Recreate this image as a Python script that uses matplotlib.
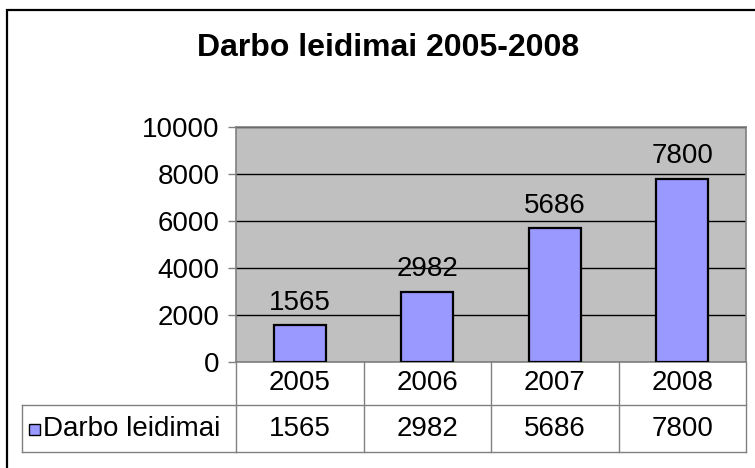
import matplotlib
matplotlib.use("Agg")
import matplotlib.pyplot as plt
from matplotlib import transforms
from matplotlib.patches import Rectangle
from matplotlib.lines import Line2D

plt.rcParams["font.family"] = ["Liberation Sans", "DejaVu Sans"]

TITLE = "Darbo leidimai 2005-2008"
SERIES_NAME = "Darbo leidimai"
YEARS = ["2005", "2006", "2007", "2008"]
PERMITS = [1565, 2982, 5686, 7800]
Y_TICKS = [0, 2000, 4000, 6000, 8000, 10000]

BAR_COLOR = "#9999FF"
PLOT_BG = "#C0C0C0"
GRID_GRAY = "#808080"

W, H = 755, 468
fig = plt.figure(figsize=(W / 100, H / 100), dpi=100)

# outer chart border (runs off the right/bottom edges like the source)
fig.patches.append(Rectangle((7 / W, -0.2), 1.2, 1.2 - 10 / H + 0.0, transform=fig.transFigure,
                             fill=False, edgecolor="black", linewidth=1.6))

fig.text(388 / W, 1 - 48 / H, TITLE, ha="center", va="center", fontsize=23, fontweight="bold")

# plot area
left, right, top, bottom = 236, 746, 127, 362
ax = fig.add_axes([left / W, 1 - bottom / H, (right - left) / W, (bottom - top) / H])
ax.set_facecolor(PLOT_BG)
x = list(range(len(YEARS)))
ax.bar(x, PERMITS, width=0.41, color=BAR_COLOR, edgecolor="black", linewidth=1.6, zorder=3)
for xi, v in zip(x, PERMITS):
    ax.annotate(str(v), (xi, v), xytext=(0, 7), textcoords="offset points",
                ha="center", va="bottom", fontsize=20, zorder=4)
ax.set_xlim(-0.5, len(YEARS) - 0.5)
ax.set_ylim(0, 10000)
ax.set_yticks(Y_TICKS)
ax.set_yticklabels([str(t) for t in Y_TICKS], fontsize=20)
ax.yaxis.grid(True, color="black", linewidth=1.0, zorder=1)
ax.set_axisbelow(True)
ax.set_xticks([])
ax.tick_params(axis="y", length=6, width=1, color=GRID_GRAY, pad=6)
for s in ax.spines.values():
    s.set_color(GRID_GRAY)
    s.set_linewidth(1.2)

# data table under the plot
trans = transforms.blended_transform_factory(ax.transData, ax.transAxes)
h_px = bottom - top
row1 = -(405 - bottom) / h_px
row2 = -(452 - bottom) / h_px
line_kw = dict(color=GRID_GRAY, linewidth=1.0, clip_on=False)
for b in [i - 0.5 for i in range(len(YEARS) + 1)]:
    ax.add_line(Line2D([b, b], [0, row2], transform=trans, **line_kw))
ax.add_line(Line2D([-0.5, len(YEARS) - 0.5], [row1, row1], transform=trans, **line_kw))
ax.add_line(Line2D([-0.5, len(YEARS) - 0.5], [row2, row2], transform=trans, **line_kw))

# legend cell on the left of the value row
fl = 22 / W
ax0 = ax.transData.transform((-0.5, 0))[0] / fig.bbox.width
fig.lines.append(Line2D([fl, ax0], [1 - 405 / H] * 2, transform=fig.transFigure, color=GRID_GRAY, linewidth=1.0))
fig.lines.append(Line2D([fl, ax0], [1 - 452 / H] * 2, transform=fig.transFigure, color=GRID_GRAY, linewidth=1.0))
fig.lines.append(Line2D([fl, fl], [1 - 405 / H, 1 - 452 / H], transform=fig.transFigure, color=GRID_GRAY, linewidth=1.0))
fig.patches.append(Rectangle((29 / W, 1 - 435 / H), 11 / W, 11 / H, transform=fig.transFigure,
                             facecolor=BAR_COLOR, edgecolor="black", linewidth=1.0))
fig.text(43 / W, 1 - 429 / H, SERIES_NAME, ha="left", va="center", fontsize=20)

for xi, yr, v in zip(x, YEARS, PERMITS):
    ax.text(xi, row1 / 2, yr, transform=trans, ha="center", va="center", fontsize=20)
    ax.text(xi, (row1 + row2) / 2, str(v), transform=trans, ha="center", va="center", fontsize=20)

fig.savefig("out.png", dpi=100, facecolor="white")
